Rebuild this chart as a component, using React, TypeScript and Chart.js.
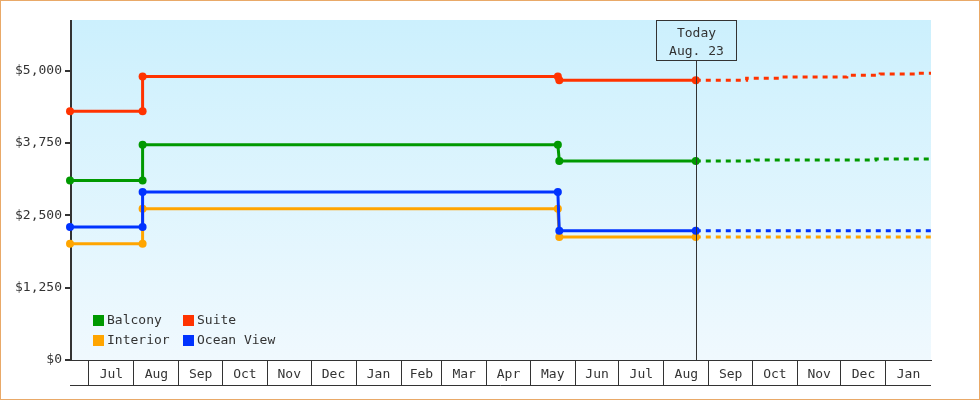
import React, { useEffect, useRef } from 'react';
import { Chart, registerables } from 'chart.js';

Chart.register(...registerables);

// ---- axis data ----
const monthLabels = ['Jul', 'Aug', 'Sep', 'Oct', 'Nov', 'Dec', 'Jan', 'Feb', 'Mar', 'Apr', 'May', 'Jun', 'Jul', 'Aug', 'Sep', 'Oct', 'Nov', 'Dec', 'Jan'];
// day offsets (day 0 = 1 Jul of first year) of each month start
const monthStartDays = [0, 31, 62, 92, 123, 153, 184, 215, 243, 274, 304, 335, 365, 396, 427, 457, 488, 518, 549];
const axisStartDay = -13;
const axisEndDay = 580;
const yTickValues = [0, 1250, 2500, 3750, 5000];
const yMax = 5875;
const todayDay = 418;
const todayLines = ['Today', 'Aug. 23'];

// ---- series data ----
const historyDays = [-13, 37, 37, 323, 324, 418];
const suiteHistory = [4300, 4300, 4900, 4900, 4835, 4835];
const balconyHistory = [3100, 3100, 3720, 3720, 3440, 3440];
const oceanViewHistory = [2300, 2300, 2905, 2905, 2235, 2235];
const interiorHistory = [2010, 2010, 2615, 2615, 2125, 2125];

const suiteForecastDays = [418, 453, 476, 522, 545, 570, 580];
const suiteForecast = [4835, 4870, 4890, 4920, 4940, 4955, 4955];
const balconyForecastDays = [418, 459, 542, 580];
const balconyForecast = [3440, 3458, 3475, 3475];
const oceanViewForecastDays = [418, 580];
const oceanViewForecast = [2235, 2235];
const interiorForecastDays = [418, 580];
const interiorForecast = [2125, 2125];

const legendItems = [
  { label: 'Balcony', color: '#009900' },
  { label: 'Suite', color: '#ff3300' },
  { label: 'Interior', color: '#ffa500' },
  { label: 'Ocean View', color: '#0033ff' },
];

const SUITE = '#ff3300';
const BALCONY = '#009900';
const OCEAN = '#0033ff';
const INTERIOR = '#ffa500';
const INK = '#333333';
const FONT = '"DejaVu Sans Mono", monospace';

const pts = (xs: number[], ys: number[]) => xs.map((x, i) => ({ x, y: ys[i] }));

const monthMidDays = monthStartDays.map((d, i) => (d + (i + 1 < monthStartDays.length ? monthStartDays[i + 1] : axisEndDay)) / 2);
const midLabelMap = new Map<number, string>();
monthMidDays.forEach((m, i) => midLabelMap.set(m, monthLabels[i]));
const boundarySet = new Set<number>(monthStartDays);

function histDs(label: string, color: string, ys: number[]) {
  return {
    label,
    data: pts(historyDays, ys),
    borderColor: color,
    backgroundColor: color,
    borderWidth: 3,
    pointRadius: 4,
    pointBorderWidth: 0,
    pointBackgroundColor: color,
    tension: 0,
    clip: false as any,
  };
}

function fcDs(label: string, color: string, xs: number[], ys: number[]) {
  return {
    label,
    data: pts(xs, ys),
    borderColor: color,
    backgroundColor: color,
    borderWidth: 3,
    borderDash: [5, 5],
    pointRadius: 0,
    stepped: true,
    tension: 0,
  };
}

const bgPlugin = {
  id: 'bgGradient',
  beforeDraw(chart: any) {
    const { ctx, chartArea } = chart;
    if (!chartArea) return;
    const g = ctx.createLinearGradient(0, chartArea.top, 0, chartArea.bottom);
    g.addColorStop(0, '#ccf0fd');
    g.addColorStop(1, '#f0f9fe');
    ctx.save();
    ctx.fillStyle = g;
    ctx.fillRect(chartArea.left, chartArea.top, chartArea.right - chartArea.left, chartArea.bottom - chartArea.top);
    ctx.restore();
  },
};

const axisLinePlugin = {
  id: 'yAxisLine',
  beforeDatasetsDraw(chart: any) {
    const { ctx, chartArea } = chart;
    ctx.save();
    ctx.strokeStyle = INK;
    ctx.lineWidth = 2;
    ctx.beginPath();
    ctx.moveTo(Math.round(chartArea.left) + 1, chartArea.top);
    ctx.lineTo(Math.round(chartArea.left) + 1, chartArea.bottom + 1);
    ctx.stroke();
    ctx.restore();
  },
};

const decorPlugin = {
  id: 'decor',
  afterDraw(chart: any) {
    const { ctx, chartArea, scales } = chart;
    const xs = scales.x;
    ctx.save();
    // bottom line of month row
    const rowBottom = Math.round(chartArea.bottom + 25) + 0.5;
    ctx.strokeStyle = INK;
    ctx.lineWidth = 1;
    ctx.beginPath();
    ctx.moveTo(chartArea.left, rowBottom);
    ctx.lineTo(chartArea.right, rowBottom);
    ctx.stroke();

    // today marker
    const tx = Math.round(xs.getPixelForValue(todayDay)) + 0.5;
    const boxTop = Math.round(chartArea.top) + 0.5;
    const boxH = 40;
    const boxW = 80;
    ctx.beginPath();
    ctx.moveTo(tx, boxTop + boxH);
    ctx.lineTo(tx, chartArea.bottom);
    ctx.stroke();
    ctx.strokeRect(tx - boxW / 2, boxTop, boxW, boxH);
    ctx.fillStyle = INK;
    ctx.font = `13px ${FONT}`;
    ctx.textAlign = 'center';
    ctx.textBaseline = 'middle';
    ctx.fillText(todayLines[0], tx, boxTop + 13);
    ctx.fillText(todayLines[1], tx, boxTop + 31);

    // legend
    const colX = [chartArea.left + 23, chartArea.left + 113];
    const rowY = [chartArea.bottom - 45, chartArea.bottom - 25];
    ctx.textAlign = 'left';
    legendItems.forEach((it, i) => {
      const x = colX[i % 2];
      const y = rowY[Math.floor(i / 2)];
      ctx.fillStyle = it.color;
      ctx.fillRect(x, y, 11, 11);
      ctx.fillStyle = INK;
      ctx.fillText(it.label, x + 14, y + 6);
    });
    ctx.restore();
  },
};

export default function App() {
  const ref = useRef<HTMLCanvasElement>(null);
  useEffect(() => {
    document.body.style.margin = '0';
    const canvas = ref.current!;
    const chart = new Chart(canvas, {
      type: 'line',
      data: {
        datasets: [
          histDs('Suite', SUITE, suiteHistory),
          histDs('Balcony', BALCONY, balconyHistory),
          histDs('Ocean View', OCEAN, oceanViewHistory),
          histDs('Interior', INTERIOR, interiorHistory),
          fcDs('Suite forecast', SUITE, suiteForecastDays, suiteForecast),
          fcDs('Balcony forecast', BALCONY, balconyForecastDays, balconyForecast),
          fcDs('Ocean View forecast', OCEAN, oceanViewForecastDays, oceanViewForecast),
          fcDs('Interior forecast', INTERIOR, interiorForecastDays, interiorForecast),
        ] as any,
      },
      options: {
        responsive: false,
        animation: false,
        events: [],
        layout: { padding: { top: 19, right: 48, left: 0, bottom: 0 } },
        plugins: { legend: { display: false }, tooltip: { enabled: false } },
        scales: {
          x: {
            type: 'linear',
            min: axisStartDay,
            max: axisEndDay,
            afterBuildTicks: (s: any) => {
              const all = [...monthStartDays, ...monthMidDays].sort((a, b) => a - b);
              s.ticks = all.map((v) => ({ value: v }));
            },
            afterFit: (s: any) => {
              s.height = 39;
            },
            ticks: {
              autoSkip: false,
              maxRotation: 0,
              minRotation: 0,
              padding: -18,
              color: INK,
              font: { family: FONT, size: 13 },
              callback: (v: any) => midLabelMap.get(Number(v)) ?? '',
            },
            grid: {
              drawOnChartArea: false,
              drawTicks: true,
              tickLength: 25,
              lineWidth: 1,
              color: (c: any) => (c.tick && boundarySet.has(c.tick.value) ? INK : 'rgba(0,0,0,0)'),
            },
            border: { display: true, color: INK, width: 1 },
          },
          y: {
            type: 'linear',
            min: 0,
            max: yMax,
            afterBuildTicks: (s: any) => {
              s.ticks = yTickValues.map((v) => ({ value: v }));
            },
            afterFit: (s: any) => {
              s.width = 69;
            },
            ticks: {
              padding: 3,
              color: INK,
              font: { family: FONT, size: 13 },
              callback: (v: any) => '$' + Number(v).toLocaleString('en-US'),
            },
            grid: {
              drawOnChartArea: false,
              drawTicks: true,
              tickLength: 5,
              lineWidth: 2,
              color: INK,
            },
            border: { display: false },
          },
        },
      } as any,
      plugins: [bgPlugin, axisLinePlugin, decorPlugin],
    });
    return () => chart.destroy();
  }, []);
  return (
    <div style={{ width: 980, height: 400, border: '1px solid #e9a968', boxSizing: 'border-box', background: '#fff' }}>
      <canvas ref={ref} width={978} height={398} style={{ display: 'block', width: 978, height: 398 }} />
    </div>
  );
}
